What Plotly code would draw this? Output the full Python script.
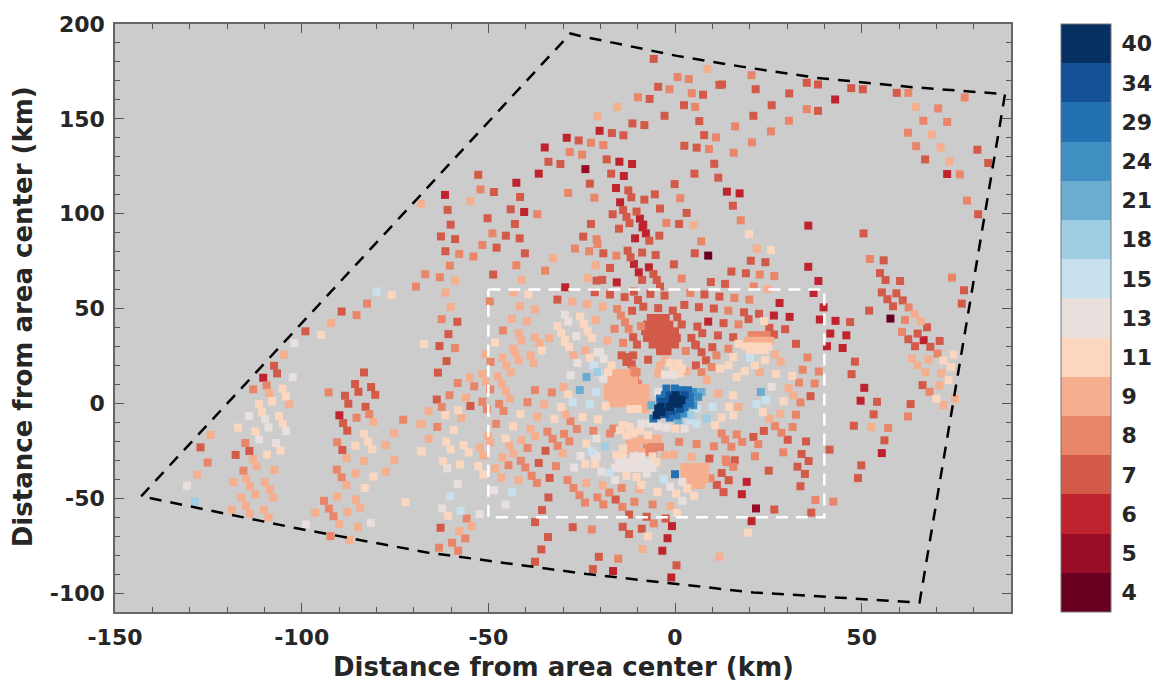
import plotly.graph_objects as go

# colour classes (labels of the colour bar, bottom to top) and their colours
levels = [4, 5, 6, 7, 8, 9, 11, 13, 15, 18, 21, 24, 29, 34, 40]
level_colors = ["#67001f", "#980c25", "#bf242e", "#d35a49", "#e9866a", "#f5ae8e", "#fcd7c0", "#e9e0dd",
                "#c8e1ee", "#9fcde3", "#6bacd1", "#3f8fc3", "#2370b3", "#135096", "#053061"]

# (km east, km north, value)
north = [(-5.7,181.6,7),(8.7,176.3,9),(11.9,167.9,7),(0.7,172,8),(3.7,171,8),(-4.5,166.9,7),(-1.5,165.6,8),(4.5,163.5,8),(7.5,162.7,7),
(-9.9,161.4,8),(-6.8,160.5,7),(2.4,157.2,7),(5.4,156.3,8),(-15.5,156.2,9),(-2.8,151.6,7),(-20.8,151.3,9),(-11.4,147.6,7),(-8.2,146.7,7),
(6.5,148.8,7),(-20.2,143.7,6),(-16.9,142.5,7),(-13.8,141.3,7),(7.8,141.4,7),(11,140.2,8),(-29,140,6),(-25.8,138.6,7),(-22.5,137.4,8),
(-19.2,136.2,8),(-34.9,134.9,6),(2.5,135.8,7),(5.8,134.8,7),(9.1,134.1,8),(-28.2,132.5,8),(-24.9,131.1,8),(-18.3,128.6,7),(-14.9,127.4,6),
(-11.5,126.2,6),(10.5,126.3,7),(-33.9,127.4,7),(-30.7,126.2,7),(-36.5,121.1,6),(-24,123.5,5),(-17.1,121.1,7),(-13.7,119.9,6),(5.2,121.1,7),
(11.6,119,7),(-52.7,120.5,7),(-42.5,116.3,6),(-22.8,115.8,7),(-0.1,115.6,7),(-15.8,113.5,6),(-12.5,112.3,7),(-52.1,112.8,8),(-48.5,111.4,7),
(-28.6,110.9,8),(-61.6,109.9,6),(-5.4,110.2,7),(-11.7,108.6,7),(-41.5,108.8,7),(-21.6,108.4,8),(-8.2,107.4,7),(1.4,108.1,8),(-54.8,106.7,9),
(-68.1,105.3,9),(-14.7,106,6),(-60.9,102,7),(-44,102.3,7),(-40.4,100.9,6),(-13.9,101.9,7),(-4,102.7,7),(-10.3,101.1,7),(-36.9,99.7,8),
(-16.7,99.7,7),(-13,98.3,7),(3.1,100.4,7),(-9.4,97.4,6),(-50.2,97.6,7),(-60.1,94.2,7),(-42.9,94.6,7),(-22.5,94.6,7),(-2.3,95.1,8),(1.1,94.6,7),
(4.9,94,9),(-12.2,95,7),(-8.5,94.2,6)]

north_east = [(20.5,173,8),(12.6,168.1,7),(21.6,165.6,7),(35.3,169,7),(38.3,168.1,7),(30.6,163.4,7),(47.2,166.2,7),(50.3,165.6,7),(59.4,163.7,7),
(62.5,163.7,8),(77.6,161.3,8),(42.9,160.2,6),(25.9,157.2,7),(35.3,155.1,8),(38.3,154.2,7),(64.5,156.3,9),(70.5,155.5,8),(21,151.6,7),(30.5,149,8),
(66.5,149,8),(72.9,148.3,8),(16.1,146,8),(25.7,143.4,8),(62.4,142.7,8),(68.8,141.8,9),(20.6,137.6,8),(15.7,132.1,8),(64.6,135.6,8),(71.1,134.9,9),
(81,133.7,7),(67,128.6,7),(73.5,127.6,9),(83.9,126.7,7),(72.9,120.9,6),(76.3,120.7,8),(13.9,111.6,6),(17.3,110.7,6),(15.5,104.2,7),(78.2,106.9,8),
(81.2,99.7,7),(17.6,96.5,8),(35.7,93.7,6)]

mid_west = [(-62.7,88,7),(-58.9,86.6,7),(-48.9,89.6,8),(-45.3,88.4,7),(-41.6,87,7),(-24.6,87.9,7),(-21,86.6,8),(-51.6,83.5,8),(-47.8,82.1,7),
(-61.5,80.2,7),(-57.8,78.8,8),(-54,77.4,8),(-40.2,79.1,7),(-26.8,81.6,8),(-23,80.2,8),(-32.7,76.5,9),(-60.3,72.6,8),(-42.5,72.8,8),(-21.3,72.8,9),
(-34.8,70,8),(-66.9,68.1,8),(-63,66.5,8),(-58.9,64.7,9),(-48.7,67.9,7),(-41.1,65.1,9),(-23.4,66.1,9),(-21,64.7,7),(-61.5,58.4,9),(-29.4,61.2,6),
(-39.3,57.5,11),(-21.5,58.6,7),(-43.3,58.6,9),(-49.6,53.7,8),(-31.5,54.7,7),(-27.5,53.7,9),(-23.6,52.3,9),(-41.6,51.2,9),(-37.6,49.6,9),(-60.1,50.7,9),
(-29.5,46.8,13),(-28.6,43.1,13),(-25.4,45.8,11),(-24.4,41.9,11),(-23.4,38,11),(-22.3,34.4,11),(-21.2,44,9),(-31.5,40.7,11),(-30.5,37,11),(-29.5,33.5,11),
(-26.4,35.4,13),(-43.7,44.5,9),(-39.7,43.3,9),(-62.5,44.4,8),(-58.3,43,7),(-60.7,36.5,7),(-46.1,38.4,8),(-41.9,37,9),(-41.1,33.1,9),(-37.5,34.9,9),
(-36.3,31.7,9),(-33.7,34.5,9),(-48.2,32.1,11),(-67.2,31.2,11),(-63.1,30.2,7),(-58.9,29.1,8),(-43.3,28.8,9)]

mid_centre = [(-15,92.1,7),(-8.7,92.8,6),(-7.8,89.6,6),(-10.7,87,6),(-6.9,85.8,7),(-4.2,88.4,7),(-20.8,84,8),(7,85.4,8),(19.8,89.3,11),(21.9,81.6,9),
(5.3,79.1,7),(8.9,77.9,4),(-19.2,79.1,7),(-15.7,77.9,8),(-12.7,80.5,7),(-11.9,77,7),(-8.8,79.5,7),(-5.2,78.2,7),(-11,73.5,6),(-9.7,69.1,6),(-7,71.7,6),
(-5.8,68.2,7),(-4.9,65.1,7),(-4,61.6,7),(-2.8,56.8,7),(-17.4,71.4,7),(-0.3,73.3,7),(20.3,75.2,7),(24.2,74.4,7),(15.1,69.5,7),(19,68.6,7),(22.7,67.9,8),
(1.8,65.8,8),(-19.5,65.1,7),(-15.6,63.8,6),(-8.8,65.1,7),(9.6,64,7),(13.4,63,7),(21.1,61.6,8),(24.8,60.3,9),(-17.4,57.4,7),(-13.5,56,7),(-11,58.9,7),
(-9.9,54.5,7),(-8.5,51,7),(-6.6,57.7,7),(-4.5,50.2,7),(4.1,58.2,8),(7.9,57.4,7),(11.9,56.3,7),(15.9,55.6,8),(19.9,54.7,8),(2.5,51.9,7),(6.4,50.7,7),
(10.4,50,7),(14.3,48.9,8),(-0.6,48.9,7),(18.5,48,7),(22.5,47.2,7),(0.6,45.4,7),(19.7,44.4,7),(-11.5,48.8,7),(-19.4,51,9),(-15.5,49.8,8),(-14.5,46.3,8),
(8.9,43.1,6),(13,42.3,7),(-13.4,42.8,8),(1.8,41.6,7),(6,40.5,7),(17,41.6,8),(23.8,43.3,11),(-12.4,39.3,8),(-16.2,39.3,8),(-9.1,40.7,8),(-11.2,34.9,7),
(-10.2,31,7),(-13.9,31.9,8),(-18.1,33,9),(7.3,37,7),(11.5,35.8,7),(15.6,34.9,7),(4.4,34.5,7),(5.4,31,7),(10,29.6,7),(17,31.4,11)]

red_patch = [(-6.5,45,7),(-4.5,45,7),(-2.5,45,7),(-7.5,41.5,7),(-5.5,41.5,7),(-3.5,41.5,7),(-1.5,41.5,7),(-8,38,7),(-6,38,7),(-4,38,7),(-2,38,7),(0,38,7),
(-7.5,34.5,7),(-5.5,34.5,7),(-3.5,34.5,7),(-1.5,34.5,7),(0.5,34.5,7),(-6,31,7),(-4,31,7),(-2,31,7),(0,31,7),(-4,27.5,7),(-2,27.5,7)]

east_band = [(20.5,36,8),(22.5,36,8),(24.5,36,8),(19.5,33,9),(21.5,33,9),(23.5,33,9),(25.5,33,9),(19,30,11),(21,30,11),(23,30,11),(25,30,11),(20,28,11),(22,28,11),(24,28,11)]

core_west = [(-50.7,25.8,9),(-49.4,21.8,8),(-46.2,24.1,9),(-45.2,20,9),(-44,16.2,9),(-42.8,26.5,9),(-41.9,22.7,9),(-38.7,25.3,9),(-37.9,21.3,9),(-35.6,27.9,11),
(-61.2,22.3,7),(-63.5,16.2,7),(-54.9,13.6,9),(-51.6,15.5,9),(-58.2,10.7,8),(-53.8,9,8),(-50.7,11.3,9),(-47.4,14.3,9),(-49.5,7.4,8),(-46.3,10.4,9),(-45.3,6.5,9),
(-44.2,2.5,9),(-37.5,7,8),(-33,5.8,8),(-29.9,8.6,9),(-28.6,4.8,11),(-25.5,7,21),(-23.7,13.9,21),(-28,14.8,13),(-26.1,21.3,13),(-27.2,25.3,9),(-29.5,32.3,11),
(-28.4,29.7,11),(-24,27.9,9),(-22.8,24.1,11),(-20.7,27,13),(-21.7,20,15),(-20.5,16.2,15),(-21.2,6,15),(-27.4,0.7,15),(-22.8,-0.5,15),(-30.5,-2,11),(-63.8,2,7),
(-60.4,4.3,8),(-62.5,-1.9,8),(-56,3,9),(-51.6,0.9,8),(-54.8,-1.4,7),(-66,-4.2,9),(-58.1,-3.6,11),(-61.5,-6.3,11),(-57.2,-7.7,9),(-50.4,-3.1,8),(-47.1,-0.3,8),
(-45.9,-4,8),(-39.5,0.6,8),(-35,-0.5,9),(-41.4,-5.6,11),(-36.9,-7,9),(-32.3,-8.2,11),(-29.3,-5.7,9),(-24.8,-7.2,11),(-20.6,-8.4,11),(-28,-9.4,8),(-26.3,-13.5,8),
(-21.9,-14.5,8),(-67.8,-10.7,9),(-63.7,-12.4,8),(-59.3,-14,11),(-47.9,-10.8,8),(-43.4,-12.1,11),(-38.7,-13.5,9),(-37.5,-17.3,9),(-34.2,-14.9,8),(-32.8,-18.7,8),
(-31.4,-22.4,8),(-29.7,-16.1,8),(-28.3,-20,8),(-30.1,-26.4,9),(-66,-18.7,9),(-61.3,-20.1,11),(-60.1,-24.3,11),(-67.8,-25.2,11),(-56.7,-22.1,11),(-55.3,-25.9,11),
(-52.2,-23.3,9),(-51.3,-27.5,9),(-50,-17.2,9),(-49.5,-20.5,9),(-45.4,-18.4,11),(-44.4,-22.2,9),(-43.3,-26.4,9),(-41.1,-19.4,9),(-39.5,-23.5,8),(-34.7,-25,7),
(-41.3,-30.3,8),(-40.1,-33.8,8),(-36.5,-31.4,7),(-44.6,-32.6,8),(-46.2,-28.5,9),(-48.2,-34.3,9),(-62.2,-30.5,11),(-61,-34.3,13),(-57.6,-32.2,11),(-52.7,-33.1,11),
(-31.9,-33.1,8),(-27,-33.8,13),(-25.3,-27.7,13),(-23.7,-21.2,11),(-22.3,-25.2,15),(-21,-28.2,13),(-24,-32,11),(-21.4,-32,11),(-21,-18.6,13)]

south = [(-51.3,-37.5,11),(-46.5,-39.1,9),(-41.9,-40.5,9),(-38.4,-38.2,8),(-37,-41.9,8),(-33.6,-39.3,7),(-58.2,-42.6,13),(-28.8,-40.5,8),(-27.2,-44.6,8),(-25.6,-48.4,8),
(-24.1,-52.3,8),(-23.8,-41.9,9),(-20.8,-49.6,8),(-19.2,-53.3,8),(-19.4,-43.2,9),(-17.6,-47,8),(-14.3,-44.6,8),(-15.9,-50.7,7),(-9.6,-45.4,9),(-10.9,-51.9,8),(-14.1,-54.6,8),
(-12.3,-58.6,7),(-6,-53.3,8),(-4.7,-46.7,11),(-60.2,-49,15),(-48.5,-45.8,13),(-43.6,-46.8,15),(-33.9,-49.6,7),(-45.4,-53.3,13),(-62.4,-55.4,13),(-57.4,-56.7,15),(-52.4,-58.4,13),
(-60.8,-59.3,11),(-35.6,-56.3,7),(-55.8,-60.7,8),(-54.5,-64.7,9),(-62.8,-65.6,7),(-37.5,-62.6,7),(-57.8,-67.4,9),(-56.2,-71.2,8),(-59.7,-73.5,8),(-58.1,-77.7,8),(-63.2,-76.1,8),
(-34,-70.5,7),(-35.8,-77,7),(-37.5,-83.5,7),(-27.4,-65.3,7),(-22.3,-66.5,8),(-14,-65.1,7),(-12.3,-68.9,7),(-8.9,-66.1,7),(-7.6,-59.8,7),(-5.7,-63.3,8),(-2.5,-60.7,7),(-0.8,-64.7,6),
(-7.3,-70.2,11),(-2,-71.1,6),(-8.7,-76.8,9),(-3.4,-77.7,6),(-20.4,-80.9,7),(-15.2,-81.9,8),(-22,-87.4,7),(-16.6,-88.4,6),(0.4,-85.4,7),(-1,-91.8,6),(11.9,-80.9,9),(19.5,-68.2,11),
(20.5,-62.1,6),(21.7,-55.4,5),(17.9,-47.9,6),(19.2,-41.4,6),(12.5,-36.7,7),(14.4,-40.5,7),(11.2,-43,7),(13,-46.8,7),(9.5,-39.5,8),(15.6,-33.5,8),(13.8,-31,8),(0,-37.4,29),
(-3.1,-40,15),(-1.3,-44,13),(1.9,-41.4,13),(0.3,-47.5,11),(3.3,-44.9,11),(5.1,-48.8,11),(2,-51.4,13),(-1.2,-54.2,9),(0.5,-57.7,11),(-16,-40.5,13),(-17.6,-36.7,15),(-19.7,-36,13),
(-13,-38.2,11),(-10.3,-38.8,11),(-7.6,-37,13),(-9,-43,11)]

south_patch = [(2.5,-33.5,9),(4.5,-33.5,9),(6.5,-33.5,9),(8,-33.5,9),(2.5,-37,9),(4.5,-37,9),(6.5,-37,9),(8,-37,9),(4,-40,9),(6,-40,9),(8,-40,9),(5,-43,9),(7,-43,9)]

west_of_core = [(-14.3,25.3,7),(-12.5,24.4,7),(-11.2,25.3,7),(-13,21.8,7),(-11.6,20.6,7),(-7.2,23,7),(-11.2,17.4,8),(-10.7,13.9,8),(-9.9,10.4,8),(-11.6,15.7,8),(-10.3,16.5,8),
(-17,16,9),(-15,16,9),(-13,16,9),(-17,12,9),(-15,12,9),(-13,12,9),(-11,12,9),(-18,8,9),(-16,8,9),(-14,8,9),(-12,8,9),(-10,8,9),(-8,8,9),(-18,4,9),(-16,4,9),(-14,4,9),(-12,4,9),(-10,4,9),(-8,4,9),
(-17,0,9),(-15,0,9),(-13,0,9),(-11,0,9),(-9,0,9),(-7,0,9),(-12,-3,11),(-10,-3,11),(-8,-3,9),(-20.1,27,13),(-19.1,23.5,13),(-21.9,20,15),(-20.8,16.5,18),(-19.2,13,13),(-17,20,11),(-17.9,16.5,11),(-18.5,-1.5,11)]

core_east = [(-4,20,9),(-2.7,22.7,9),(-1.4,21.3,11),(0.9,21,11),(-0.5,17.4,11),(1.8,18.3,11),(-2.7,15.1,13),(-0.5,14.8,13),(1.3,15.7,11),(-4.5,15.7,9),(3.1,17,9),(5.6,20,7),(8.3,22.7,7),
(7.1,16.5,8),(8.5,12.5,9),(11.1,25.3,8),(2.9,27.6,8),(5.6,30.6,7),(7.1,27,7),(14.3,28.8,8),(15.6,24.4,11),(9.8,19.2,8),(12,18.3,11),(14.3,20,11),(20.1,24,15),(18.7,17,11),(21.4,20,11),
(24.1,22.7,11),(22.7,16.5,9),(16.5,13.9,11),(11.6,5.1,9),(15.6,4.3,11),(23,6,21),(21.8,-0.5,15),(17,-1.9,9),(14.5,-1.9,11),(10.1,-1.9,15),(8.5,-8,18),(10.7,-11.5,11),(12.5,-15.9,8),
(13.4,-19.1,8),(15.1,-22.9,8),(16.5,-16.4,8),(18,-20.3,8),(21,-17.7,7),(23.8,-14.5,7),(22.3,-21.5,8),(21.4,-27.9,8),(16,-30,7),(13.6,-29.6,8),(10.4,-22.6,8),(9.2,-29.1,7),(5.8,-21.5,8),
(4.4,-28.2,9),(1.1,-20.3,8),(-0.3,-27,9),(15.6,-6.3,11),(12.5,-7.5,11)]

core_south = [(-9,-10.7,13),(-6.7,-10.7,13),(-4.5,-12,13),(-2.3,-12.8,13),(0,-13.3,11),(2.6,-13.3,13),(-17.4,-15.9,8),(-16.5,-13.3,8),(-7.6,-23,8),(-5.8,-23,8),(-4,-23,8),(-7.6,-25.6,8),
(-5.8,-26.5,8),(-13.9,-11.5,11),(-12.1,-12.4,11),(-14.8,-14.2,11),(-13,-16.8,11),(-11.2,-15.9,11),(-9.4,-14.2,11),(-7.2,-16.8,11),(-10.3,-19.4,9),(-8.5,-19.4,9),(-12.1,-21.2,9),(-10.3,-23,9),
(-9,-25.6,9),(-12.1,-24.7,9),(-6.3,-18.6,9),(-4.5,-18.6,9),(-13.9,-23.8,11),(-15.7,-27.3,11),(-18.8,-22.6,18),(-21.5,-27.3,13),(-14,-28,11),(-11,-28,13),(-9,-28,13),(-6,-28,11),
(-15,-31,13),(-13,-31,13),(-11,-31,13),(-9,-31,13),(-7,-31,13),(-5,-31,11),(-16,-34,13),(-14,-34,13),(-12,-34,13),(-10,-34,13),(-8,-34,13),(-6,-34,13),(-2.7,-27.3,9)]

vortex = [(0.9,2.5,40),(0.2,4.3,40),(1.8,1.6,40),(-0.7,-0.1,40),(0.9,-0.1,40),(-0.5,2.5,40),(-1.4,-1.9,40),(-4.5,-2.8,40),(-3.6,-4.5,40),(-4.9,-6.3,40),(-3.9,-1.9,40),
(2.6,4.3,34),(-1.4,4.3,34),(-1.8,0.7,34),(-2.7,-2.8,34),(-2.7,-5.7,34),(-0.9,-4,34),(1.3,-2.8,34),(-3.6,0.7,34),
(-2.7,4.3,29),(-2.3,7.8,29),(0,7.8,29),(1.8,6.9,29),(4,3.4,29),(4,-0.1,29),(2.6,-1.9,29),(0.4,-6.3,29),(-1.4,-7.5,29),(-5.8,-8,29),(-4,2.5,29),(3.5,6.9,29),
(4.9,6,24),(6.2,3.4,24),(4.9,-1,24),(2.2,-5.4,24),(7.1,6,21),(-6.3,-1,21),(0.9,-8.9,21),(4.2,-6.3,18),(-4.5,6,13),(5.8,-2.8,15),(4,-9,15),(5.8,-10.7,15)]

east = [(50.5,89.6,7),(35.7,72,6),(25.7,80.8,11),(26.6,67.1,8),(38.4,64.5,6),(37.1,58.2,6),(28,52.9,6),(39.8,50.6,6),(26.5,46.3,6),(30.7,45.6,6),(38.8,44.2,6),(43,43.5,6),(46.9,42.9,7),
(41.6,36.8,6),(45.9,35.9,6),(29.5,39.1,7),(32.4,31.4,7),(40.7,30.1,6),(44.9,29.2,6),(48.2,22,7),(35.5,24.2,8),(47.3,15.4,7),(50.7,8.2,6),(49.7,1.4,6),(54.1,0.8,7),(53.2,-5.8,7),(47.9,-11.8,7),
(52.5,-12.5,9),(57.1,-12.9,8),(56.1,-19.5,7),(55.4,-26.2,6),(49.9,-32.7,7),(49,-39.4,7),(41.4,-24.4,7),(35.1,-20.1,7),(33.9,-26.7,7),(35.8,-30.4,7),(32.8,-33.4,7),(34.8,-37.2,7),(33.6,-43.7,7),
(29,-25.8,8),(25.1,-35.5,7),(37.6,-50.9,8),(42.4,-51.8,8),(26.6,-56,7),(36.5,-57.6,7),(38.5,16.8,8),(34.2,17.7,8),(37.4,10.5,8),(33.2,11,8),(36.3,3.8,7),(33.6,0.5,8),(31.4,14.5,11),(27.1,15.6,11),
(30.4,8,9),(31.7,4.2,9),(29.1,1.2,11),(25.9,8.7,13),(24.4,1.9,15),(23.5,-4.6,11),(28.2,-5.5,9),(32.4,-6,8),(25.3,-8.1,9),(26.8,-12,8),(31.5,-12.5,8),(28.5,-15.5,8),(30.2,-19.2,7),(26.8,25.7,9),
(28.3,22,9),(25.3,39.8,7),(26.5,36.3,7)]

far_east = [(52.2,76.1,8),(55.9,75.4,7),(54.9,68.7,7),(56.4,65,7),(60.3,64.5,7),(55.4,58.5,7),(56.9,54.9,7),(59.3,58,7),(61,54.3,7),(58.4,51.2,7),(52,48.9,7),(62.6,50.6,8),(64.2,47,9),(65.8,43.3,9),
(61.6,44,8),(57.7,44.7,4),(67.5,40.1,7),(60.8,37.7,8),(65,36.8,7),(62.5,33.8,7),(66.6,33.3,6),(70.9,32.9,7),(64.3,30.1,7),(68.4,29.8,7),(70.3,26.3,8),(74.6,25.7,11),(63.5,23.6,9),(67.9,23.1,9),
(71.9,22.6,11),(65,20,9),(73.9,19.1,11),(67.1,16.3,9),(71.3,15.9,9),(73.3,12.2,11),(66.3,9.6,7),(70.8,9.4,9),(68.2,6.1,8),(70,2.4,11),(75,2.4,9),(71.9,-0.9,9),(63.1,-0.4,7),(62.4,-6.9,8),
(74.2,66.3,8),(77.4,59.6,7),(76.8,52.6,7)]

west = [(-69.4,61.6,8),(-75.9,57,11),(-79.9,59,15),(-82.5,52.6,8),(-89.3,48.4,7),(-85.3,46.5,8),(-92.2,42.3,9),(-99,38,7),(-94.8,36,11),(-102,31.7,13),(-104.7,25.6,9),(-107.4,19.8,7),(-106.6,15.8,7),
(-102.4,13.7,13),(-110.3,13.5,6),(-113,7.4,8),(-109.4,9.5,8),(-108.7,5.4,9),(-105.1,7.7,11),(-104.2,3.7,11),(-107.9,1.2,11),(-103.4,-0.5,9),(-111.4,-0.5,11),(-110.6,-4.6,11),(-114.1,-6.7,13),
(-109.8,-8.4,13),(-106.1,-6.7,11),(-83.3,16.3,7),(-85.7,10.2,7),(-84.8,6.1,7),(-81.4,8.6,7),(-80.3,4.5,7),(-92.8,5.8,8),(-88.4,4,7),(-87.5,-0.2,7),(-82.9,-1.8,7),(-81.9,-5.6,8),(-89.9,-6.3,6),
(-85.3,-7.6,8),(-72.8,-8.6,8)]

south_west = [(-108.9,-12.8,13),(-105.1,-10.7,11),(-104.2,-14.6,13),(-117,-12.8,11),(-112.4,-14.8,11),(-124.4,-16.7,9),(-111.4,-19,13),(-106.9,-20.9,13),(-115.1,-20.9,8),(-127.1,-23.2,7),(-114,-25.1,7),
(-117.7,-27.2,7),(-105.7,-24.9,11),(-109.3,-26.9,11),(-113.1,-29.3,9),(-112.1,-33.2,9),(-125.2,-31.2,8),(-115.6,-35.5,8),(-107.3,-35.1,9),(-128,-37.6,9),(-114.8,-39.7,9),(-113.8,-43.7,9),(-112.4,-47.9,9),
(-118.3,-41.6,9),(-109.9,-41.6,9),(-108.5,-45.5,9),(-107.6,-49.7,9),(-130.7,-43.4,13),(-116.2,-49.7,9),(-114.9,-54,9),(-113.9,-58.1,9),(-118.7,-56,9),(-110.1,-56,9),(-108.9,-60.2,9),(-128.6,-51.8,18),
(-88.9,-10.4,7),(-87.8,-14.4,7),(-80.8,-9.8,9),(-90.5,-20.5,8),(-89.1,-24.6,7),(-88,-28.8,9),(-83.3,-16,11),(-82.2,-20.2,11),(-81.1,-24.2,11),(-85.6,-22.3,11),(-83.3,-30.4,9),(-77.5,-22,9),(-75.2,-15.8,9),
(-75.2,-29.8,9),(-68.2,-10.9,9),(-68.1,-25.3,11),(-90.6,-34.9,8),(-89.3,-39,8),(-88,-43.2,9),(-85.6,-36.9,9),(-77.4,-36,9),(-80.8,-38.6,11),(-83.1,-44.6,11),(-72.2,-52.1,11),(-90.5,-49.1,9),(-94,-51.4,8),
(-92.7,-55.5,8),(-91.5,-59.5,8),(-90,-63.7,9),(-96.4,-57.6,9),(-98.9,-63.9,13),(-85.5,-50.7,9),(-84.3,-54.9,9),(-87.8,-57.2,9),(-81.5,-63,13),(-84.9,-65.3,9),(-92.3,-70,8),(-87.3,-72,9)]

# dashed outlines (km)
domain_x = [-143, -28, -25.4, 0.5, 18.2, 38, 63, 88.4, 65.5, 21, -23.6, -66.4, -101, -141.4, -143]
domain_y = [-49, 195, 193.7, 183.2, 177.4, 171.6, 166.8, 163, -105, -99.7, -90, -78.6, -66, -49.4, -49]
box_x = [-50, 40, 40, -50, -50]
box_y = [60, 60, -60, -60, 60]

x_range = [-150, 90]
y_range = [-110, 200]
x_ticks = [-150, -100, -50, 0, 50]
y_ticks = [-100, -50, 0, 50, 100, 150, 200]
axis_title = "Distance from area center (km)"

all_points = sorted(north + north_east + mid_west + mid_centre + red_patch + east_band + core_west + south + south_patch
                    + west_of_core + core_east + core_south + vortex + east + far_east + west + south_west, key=lambda p: p[2])
xs = [p[0] for p in all_points]
ys = [p[1] for p in all_points]
index = [levels.index(p[2]) for p in all_points]

n = len(levels)
scale = []
for i, c in enumerate(level_colors):
    scale += [[i / n, c], [(i + 1) / n, c]]

TXT = "#262626"
FONT = "DejaVu Sans"
TICK = "#555555"
fig = go.Figure()
fig.add_trace(go.Scatter(
    x=xs, y=ys, mode="markers", showlegend=False, hoverinfo="skip",
    marker=dict(
        symbol="square", size=8, line=dict(width=0), color=index, cmin=-0.5, cmax=n - 0.5, colorscale=scale,
        colorbar=dict(
            x=1.0558, xanchor="left", xref="paper", y=0.5, yanchor="middle", yref="paper", len=1, lenmode="fraction",
            thickness=50, thicknessmode="pixels", tickmode="array", tickvals=list(range(n)), ticktext=[str(v) for v in levels],
            ticks="outside", ticklen=6, tickcolor="rgba(0,0,0,0)", outlinecolor="#777777", outlinewidth=1,
            borderwidth=0, ypad=0, xpad=0,
            tickfont=dict(family=FONT, size=22, color=TXT, weight=700),
        ),
    ),
))
fig.add_trace(go.Scatter(x=domain_x, y=domain_y, mode="lines", showlegend=False, hoverinfo="skip",
                         line=dict(color="black", width=2.5, dash="12px,9px")))
fig.add_trace(go.Scatter(x=box_x, y=box_y, mode="lines", showlegend=False, hoverinfo="skip",
                         line=dict(color="white", width=2.5, dash="12px,8px")))
# empty trace so that the top and right tick axes exist
fig.add_trace(go.Scatter(x=[None], y=[None], xaxis="x2", yaxis="y2", showlegend=False, hoverinfo="skip"))

def axis(rng, ticks, standoff):
    return dict(
        range=rng, tickmode="array", tickvals=ticks, ticktext=[str(t) for t in ticks],
        ticks="inside", ticklen=9, tickwidth=1.2, tickcolor=TICK, ticklabelstandoff=standoff,
        minor=dict(dtick=10, ticks="inside", ticklen=5, tickwidth=1.2, tickcolor=TICK),
        showgrid=False, zeroline=False, showline=True, linecolor="#666666", linewidth=1.5, mirror=True,
        tickfont=dict(family=FONT, size=22, color=TXT, weight=700),
    )

def mirror_axis(rng, ticks, side, other):
    return dict(
        range=rng, tickmode="array", tickvals=ticks, ticks="inside", ticklen=9, tickwidth=1.2, tickcolor=TICK,
        minor=dict(dtick=10, ticks="inside", ticklen=5, tickwidth=1.2, tickcolor=TICK),
        showticklabels=False, showgrid=False, zeroline=False, side=side, overlaying=other, anchor=("y2" if other == "x" else "x2"),
    )

# small ticks on both sides of the colour bar
bar_left = 946 / 896
bar_right = 996 / 896
stub = 7 / 896
shapes = []
for i in range(n):
    yp = (i + 0.5) / n
    shapes.append(dict(type="line", xref="paper", yref="paper", x0=bar_left, x1=bar_left + stub, y0=yp, y1=yp, line=dict(color="#444444", width=1.2)))
    shapes.append(dict(type="line", xref="paper", yref="paper", x0=bar_right - stub, x1=bar_right, y0=yp, y1=yp, line=dict(color="#444444", width=1.2)))

title_font = dict(family=FONT, size=26, color=TXT, weight=700)
annotations = [
    dict(text=axis_title, xref="paper", yref="paper", x=0.5, y=-0.0935, xanchor="center", yanchor="middle", showarrow=False, font=title_font),
    dict(text=axis_title, xref="paper", yref="paper", x=-0.1027, y=0.503, xanchor="center", yanchor="middle", textangle=-90, showarrow=False, font=title_font),
]

# the page has an 8 px body margin: the figure starts 8 px in, so the left and top margins are 8 px smaller
fig.update_layout(
    width=1144, height=673, autosize=False,
    margin=dict(l=107, r=141, t=16, b=69, autoexpand=False),
    paper_bgcolor="white", plot_bgcolor="#cccccc",
    xaxis=axis(x_range, x_ticks, 5),
    yaxis=axis(y_range, y_ticks, 4),
    xaxis2=mirror_axis(x_range, x_ticks, "top", "x"),
    yaxis2=mirror_axis(y_range, y_ticks, "right", "y"),
    shapes=shapes,
    annotations=annotations,
)
fig.write_html("out.html", post_script="document.documentElement.style.overflow='hidden';document.body.style.overflow='hidden';")
